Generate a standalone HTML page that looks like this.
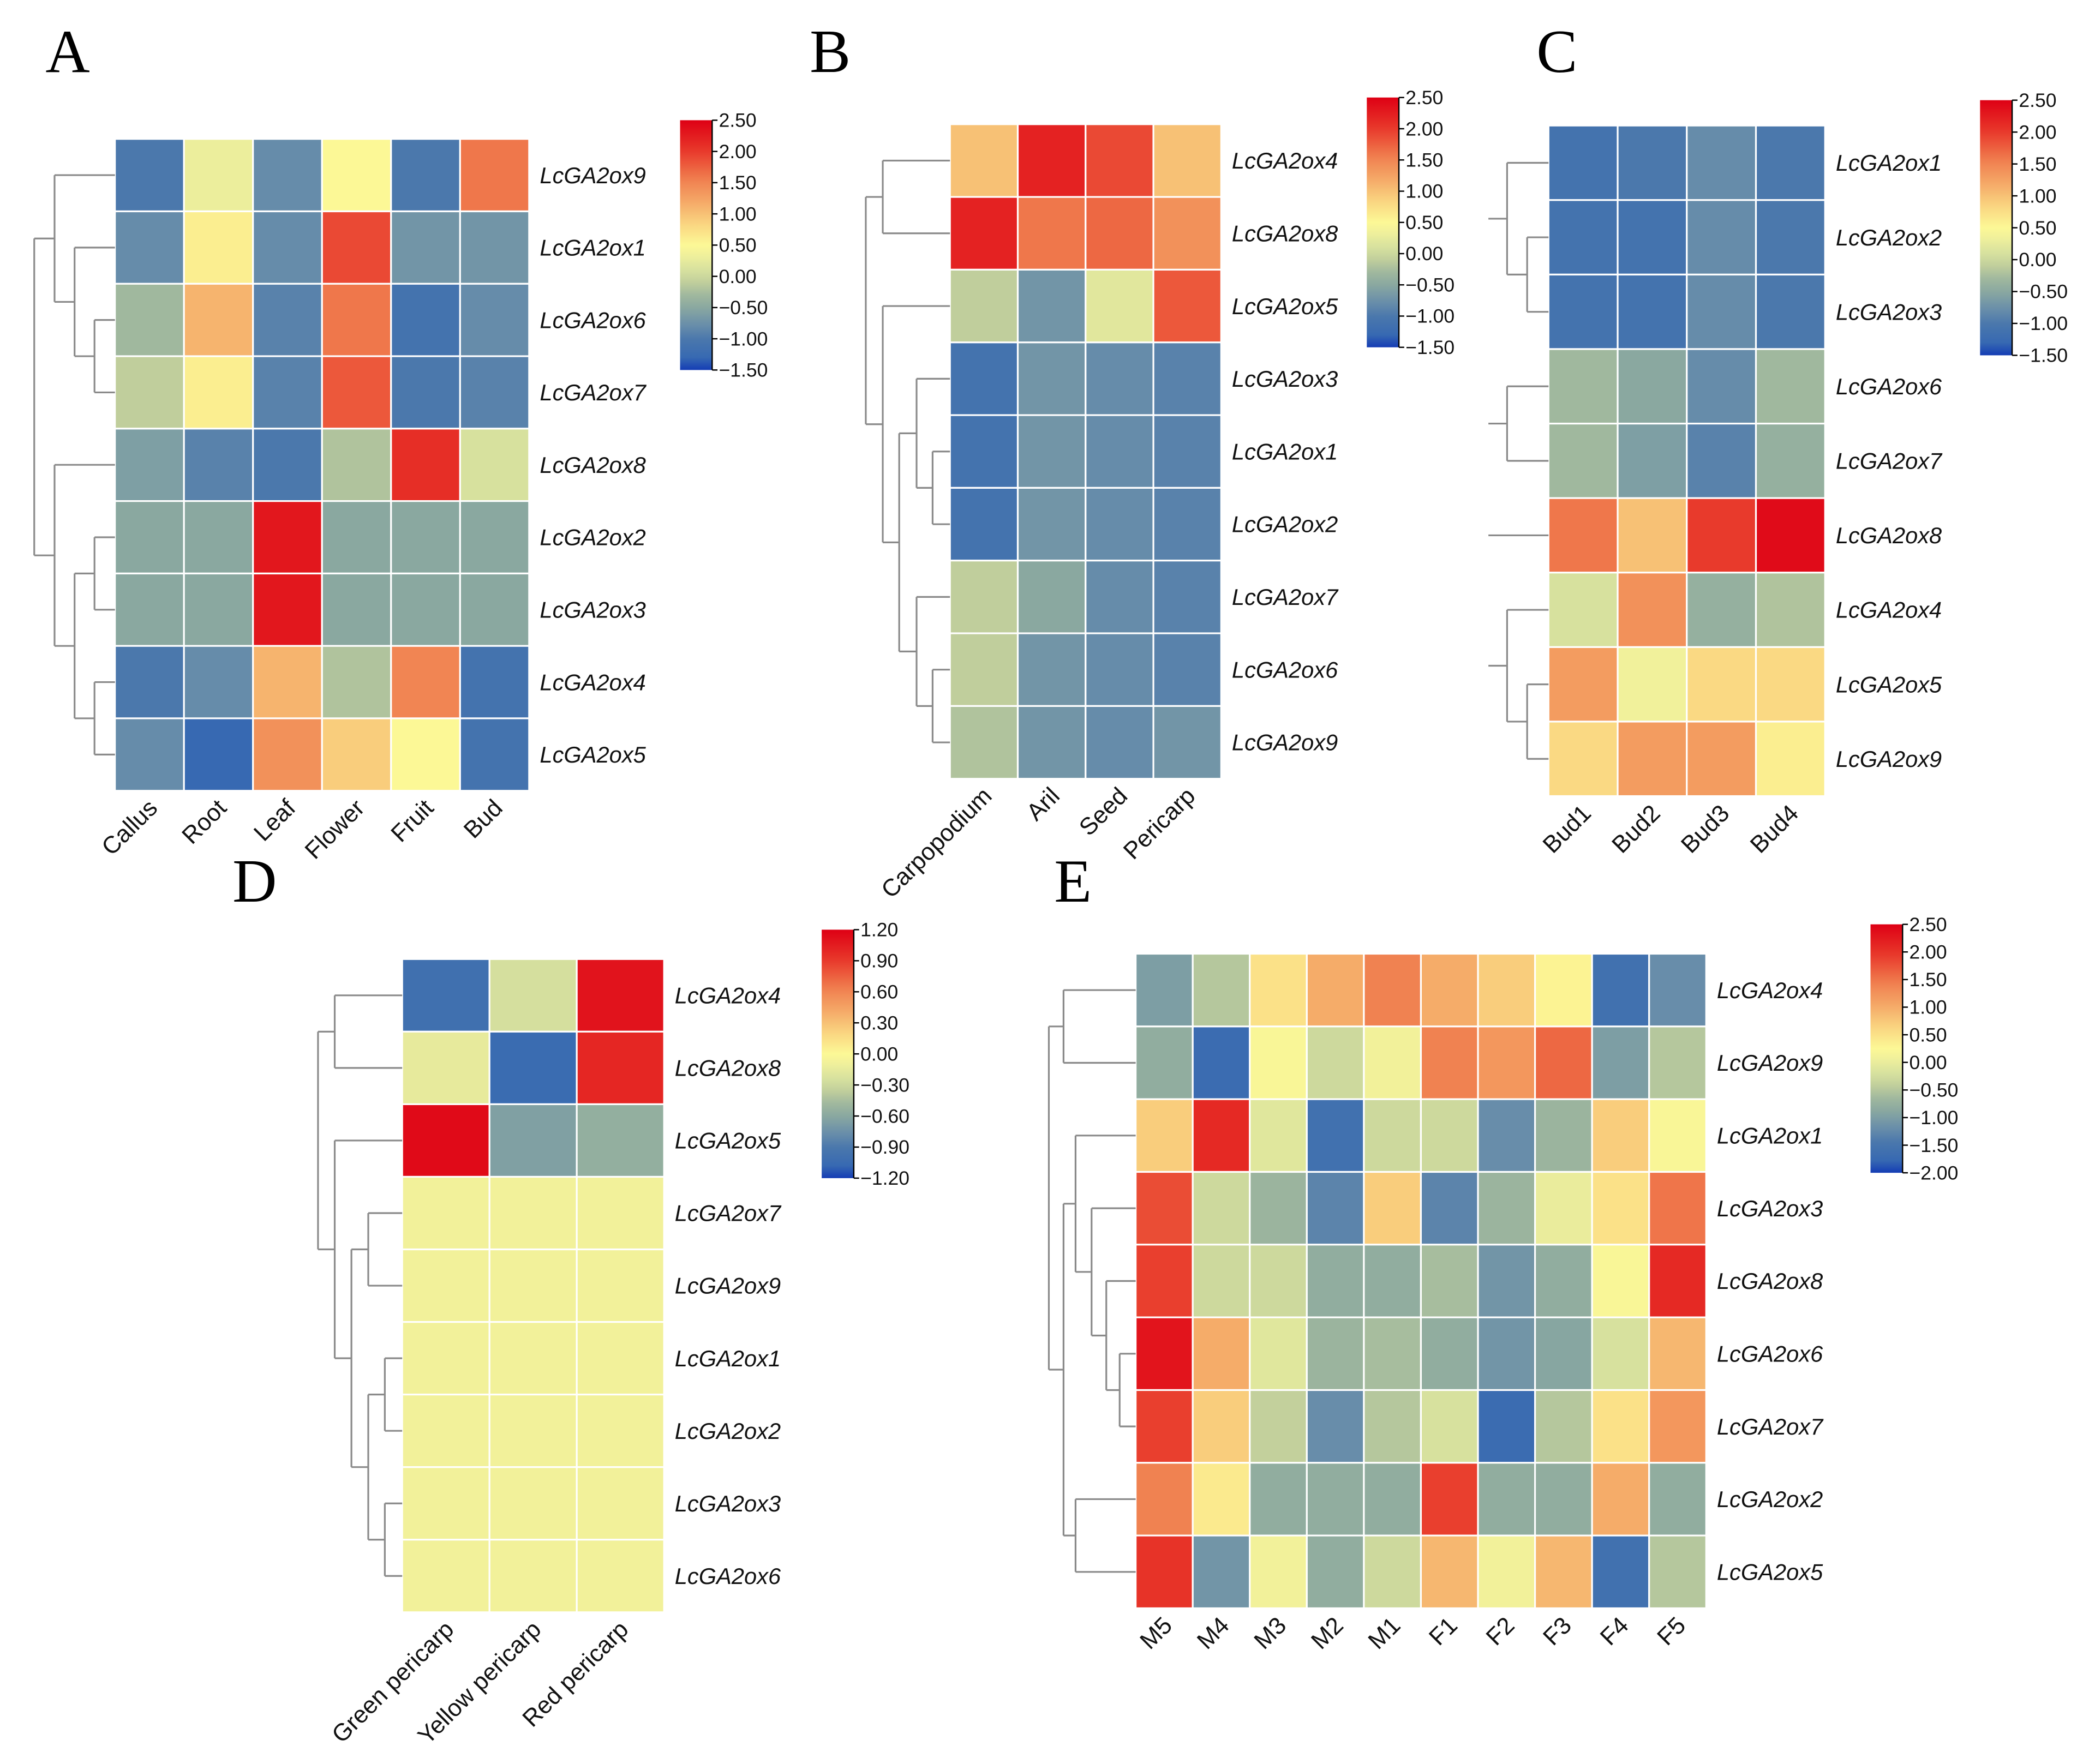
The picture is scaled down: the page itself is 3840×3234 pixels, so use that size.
<!DOCTYPE html>
<html><head><meta charset="utf-8">
<style>
html,body{margin:0;padding:0;background:#fff;}
svg{display:block;}
.rl{font-family:"Liberation Sans",sans-serif;font-style:italic;font-size:17px;fill:#111;}
.cl{font-family:"Liberation Sans",sans-serif;font-size:18px;fill:#111;}
.tk{font-family:"Liberation Sans",sans-serif;font-size:14.5px;fill:#111;}
.pl{font-family:"Liberation Serif",serif;font-size:46px;fill:#000;}
</style></head>
<body>
<svg id="fig" width="3840" height="3234" viewBox="0 0 1568 1320.6" xmlns="http://www.w3.org/2000/svg">
<text class="pl" x="34" y="54">A</text>
<text class="pl" x="606" y="54">B</text>
<text class="pl" x="1150" y="54">C</text>
<text class="pl" x="174" y="675">D</text>
<text class="pl" x="789" y="675">E</text>
</svg>
<script>
// ---------- Panel A data ----------
const aCols = ["Callus","Root","Leaf","Flower","Fruit","Bud"];
const aRows = ["LcGA2ox9","LcGA2ox1","LcGA2ox6","LcGA2ox7","LcGA2ox8","LcGA2ox2","LcGA2ox3","LcGA2ox4","LcGA2ox5"];
const aValues = [
 [-1.0,0.3,-0.8,0.5,-1.0,1.6],
 [-0.8,0.6,-0.8,1.9,-0.7,-0.7],
 [-0.3,1.1,-0.9,1.6,-1.1,-0.8],
 [-0.1,0.6,-0.9,1.8,-1.0,-0.9],
 [-0.6,-0.9,-1.0,-0.2,2.1,0.1],
 [-0.5,-0.5,2.3,-0.5,-0.5,-0.5],
 [-0.5,-0.5,2.3,-0.5,-0.5,-0.5],
 [-1.0,-0.8,1.1,-0.2,1.5,-1.1],
 [-0.8,-1.3,1.4,0.9,0.5,-1.1]];
const aTicks = [2.5,2.0,1.5,1.0,0.5,0.0,-0.5,-1.0,-1.5];
// ---------- Panel B data ----------
const bCols = ["Carpopodium","Aril","Seed","Pericarp"];
const bRows = ["LcGA2ox4","LcGA2ox8","LcGA2ox5","LcGA2ox3","LcGA2ox1","LcGA2ox2","LcGA2ox7","LcGA2ox6","LcGA2ox9"];
const bValues = [
 [1.0,2.2,1.9,1.0],
 [2.2,1.6,1.7,1.4],
 [-0.1,-0.7,0.2,1.8],
 [-1.1,-0.7,-0.8,-0.9],
 [-1.1,-0.7,-0.8,-0.9],
 [-1.1,-0.7,-0.8,-0.9],
 [-0.1,-0.5,-0.8,-0.9],
 [-0.1,-0.7,-0.8,-0.9],
 [-0.2,-0.7,-0.8,-0.7]];
const bTicks = [2.5,2.0,1.5,1.0,0.5,0.0,-0.5,-1.0,-1.5];
// ---------- Panel C data ----------
const cCols = ["Bud1","Bud2","Bud3","Bud4"];
const cRows = ["LcGA2ox1","LcGA2ox2","LcGA2ox3","LcGA2ox6","LcGA2ox7","LcGA2ox8","LcGA2ox4","LcGA2ox5","LcGA2ox9"];
const cValues = [
 [-1.1,-1.0,-0.8,-1.0],
 [-1.1,-1.1,-0.8,-1.0],
 [-1.1,-1.1,-0.8,-1.0],
 [-0.3,-0.5,-0.8,-0.3],
 [-0.3,-0.6,-0.9,-0.4],
 [1.6,1.0,2.0,2.4],
 [0.1,1.4,-0.4,-0.2],
 [1.3,0.35,0.8,0.8],
 [0.8,1.3,1.3,0.6]];
const cTicks = [2.5,2.0,1.5,1.0,0.5,0.0,-0.5,-1.0,-1.5];
// ---------- Panel D data ----------
const dCols = ["Green pericarp","Yellow pericarp","Red pericarp"];
const dRows = ["LcGA2ox4","LcGA2ox8","LcGA2ox5","LcGA2ox7","LcGA2ox9","LcGA2ox1","LcGA2ox2","LcGA2ox3","LcGA2ox6"];
const dValues = [
 [-1.0,-0.25,1.1],
 [-0.15,-1.05,1.0],
 [1.15,-0.65,-0.55],
 [-0.08,-0.08,-0.08],
 [-0.08,-0.08,-0.08],
 [-0.08,-0.08,-0.08],
 [-0.08,-0.08,-0.08],
 [-0.08,-0.08,-0.08],
 [-0.08,-0.08,-0.08]];
const dTicks = [1.2,0.9,0.6,0.3,0.0,-0.3,-0.6,-0.9,-1.2];
// ---------- Panel E data ----------
const eCols = ["M5","M4","M3","M2","M1","F1","F2","F3","F4","F5"];
const eRows = ["LcGA2ox4","LcGA2ox9","LcGA2ox1","LcGA2ox3","LcGA2ox8","LcGA2ox6","LcGA2ox7","LcGA2ox2","LcGA2ox5"];
const eValues = [
 [-1.0,-0.5,0.5,1.0,1.4,1.0,0.7,0.3,-1.6,-1.2],
 [-0.8,-1.7,0.2,-0.3,0.1,1.4,1.2,1.6,-1.0,-0.5],
 [0.7,2.1,-0.1,-1.6,-0.3,-0.3,-1.2,-0.7,0.7,0.2],
 [1.8,-0.3,-0.7,-1.3,0.7,-1.3,-0.7,0.0,0.5,1.5],
 [1.9,-0.3,-0.3,-0.8,-0.8,-0.6,-1.1,-0.8,0.2,2.1],
 [2.3,1.0,-0.1,-0.7,-0.6,-0.8,-1.1,-0.9,-0.2,0.9],
 [1.9,0.7,-0.4,-1.2,-0.5,-0.2,-1.7,-0.5,0.5,1.2],
 [1.4,0.4,-0.8,-0.8,-0.8,1.9,-0.8,-0.8,1.0,-0.8],
 [2.0,-1.1,0.1,-0.8,-0.3,0.9,0.1,0.9,-1.6,-0.5]];
const eTicks = [2.5,2.0,1.5,1.0,0.5,0.0,-0.5,-1.0,-1.5,-2.0];

const NS="http://www.w3.org/2000/svg";
const svg=document.getElementById('fig');
function mk(tag,attrs,parent){const e=document.createElementNS(NS,tag);for(const k in attrs)e.setAttribute(k,attrs[k]);(parent||svg).appendChild(e);return e;}

const stops=[[0,[20,60,180]],[0.05,[55,105,178]],[0.125,[75,120,172]],[0.18,[105,142,170]],[0.25,[138,168,160]],[0.3,[160,184,158]],[0.35,[192,206,156]],[0.4,[215,225,158]],[0.46,[240,240,155]],[0.5,[252,248,150]],[0.58,[250,215,130]],[0.65,[246,180,110]],[0.76,[240,128,80]],[0.88,[232,55,42]],[1,[222,0,20]]];
function cmap(t){t=Math.max(0,Math.min(1,t));for(let i=1;i<stops.length;i++){if(t<=stops[i][0]){const a=stops[i-1],b=stops[i];const f=(t-a[0])/(b[0]-a[0]);const c=a[1].map((v,j)=>Math.round(v+(b[1][j]-v)*f));return 'rgb('+c.join(',')+')';}}return 'rgb(222,0,20)';}

function fmt(v){const s=Math.abs(v).toFixed(2);return (v<0?'\u2212':'')+s;}

function panel(p,cols,rows,values,ticks){
 const g=mk('g',{});
 
 
 const vmax=ticks[0],vmin=ticks[ticks.length-1];
 const cw=(p.x1-p.x0)/cols.length,rh=(p.y1-p.y0)/rows.length;
 const xs=c=>p.x0+c*cw, ys=r=>p.y0+r*rh;
 values.forEach((row,r)=>row.forEach((v,c)=>{
  const rc=mk('rect',{x:xs(c),y:ys(r),width:cw,height:rh,fill:cmap((v-vmin)/(vmax-vmin)),stroke:'#fff','stroke-width':1.3},g);
  
  
 }));
 rows.forEach((n,r)=>{
  const t=mk('text',{class:'rl',x:p.x1+8,y:ys(r)+rh/2+6},g);t.textContent=n;
  
  
 });
 cols.forEach((n,c)=>{
  const cx=xs(c)+cw/2+7, cy=p.y1+14;
  const t=mk('text',{class:'cl',x:cx,y:cy,'text-anchor':'end',transform:'rotate(-45 '+cx+' '+cy+')'},g);t.textContent=n;
  
  
 });
 const cb=mk('g',{});
 
 
 const gid=p.name+'-grad';
 const lg=mk('linearGradient',{id:gid,x1:0,y1:1,x2:0,y2:0},cb);
 for(let i=0;i<=40;i++){mk('stop',{offset:i/40,'stop-color':cmap(i/40)},lg);}
 mk('rect',{x:p.cbx,y:p.cby0,width:24,height:p.cby1-p.cby0,fill:'url(#'+gid+')'},cb);
 mk('line',{x1:p.cbx+24,y1:p.cby0,x2:p.cbx+24,y2:p.cby1,stroke:'#000','stroke-width':1},cb);
 const ty=v=>p.cby1-(v-vmin)/(vmax-vmin)*(p.cby1-p.cby0);
 ticks.forEach(v=>{
  mk('line',{x1:p.cbx+24,y1:ty(v),x2:p.cbx+28,y2:ty(v),stroke:'#000','stroke-width':1},cb);
  const t=mk('text',{class:'tk',x:p.cbx+29,y:ty(v)+5},cb);t.textContent=fmt(v);
  
  
 });
 return {ys:r=>ys(r)+rh/2,x0:p.x0};
}

function dendro(name,tree,info,stub){
 const g=mk('g',{fill:'none',stroke:'#8a8a8a','stroke-width':1.3});
 
 
 function walk(n){
  if(typeof n==='number')return {y:info.ys(n),x:info.x0};
  const a=walk(n[0]),b=walk(n[1]),h=n[2];
  mk('line',{x1:h,y1:a.y,x2:h,y2:b.y},g);
  mk('line',{x1:h,y1:a.y,x2:a.x,y2:a.y},g);
  mk('line',{x1:h,y1:b.y,x2:b.x,y2:b.y},g);
  return {y:(a.y+b.y)/2,x:h};
 }
 const r=walk(tree);
 if(stub!==undefined)mk('line',{x1:stub,y1:r.y,x2:r.x,y2:r.y},g);
}

const A=panel({name:'panel-a',x0:86,x1:396,y0:104,y1:592,cbx:509,cby0:90,cby1:277},aCols,aRows,aValues,aTicks);
dendro('panel-a',[[0,[1,[2,3,70.7],55.8],40.8],[4,[[5,6,70.7],[7,8,70.7],55.8],40.8],25.6],A);

const B=panel({name:'panel-b',x0:711,x1:914,y0:93,y1:583,cbx:1023,cby0:73,cby1:260},bCols,bRows,bValues,bTicks);
dendro('panel-b',[[0,1,660.7],[2,[[3,[4,5,698],686],[6,[7,8,698],686],673],660.7],648],B);

const C=panel({name:'panel-c',x0:1159,x1:1366,y0:94,y1:596,cbx:1482,cby0:75,cby1:266},cCols,cRows,cValues,cTicks);
dendro('panel-c-1',[0,[1,2,1143],1128],C,1114);
dendro('panel-c-2',[3,4,1128],C,1114);
(function(){const g=mk('g',{stroke:'#8a8a8a','stroke-width':1.3});


mk('line',{x1:1114,y1:C.ys(5),x2:1159,y2:C.ys(5)},g);})();
dendro('panel-c-3',[6,[7,8,1143],1128],C,1114);

const D=panel({name:'panel-d',x0:301,x1:497,y0:718,y1:1207,cbx:615,cby0:696,cby1:882},dCols,dRows,dValues,dTicks);
dendro('panel-d',[[0,1,250.5],[2,[[3,4,275.6],[[5,6,288],[7,8,288],275.6],263],250.5],238],D);

const E=panel({name:'panel-e',x0:850,x1:1277,y0:714,y1:1204,cbx:1400,cby0:692,cby1:878},eCols,eRows,eValues,eTicks);
dendro('panel-e',[[0,1,796],[[2,[3,[4,[5,6,838],828],817],805],[7,8,805],796],785],E);
</script>
</body></html>
